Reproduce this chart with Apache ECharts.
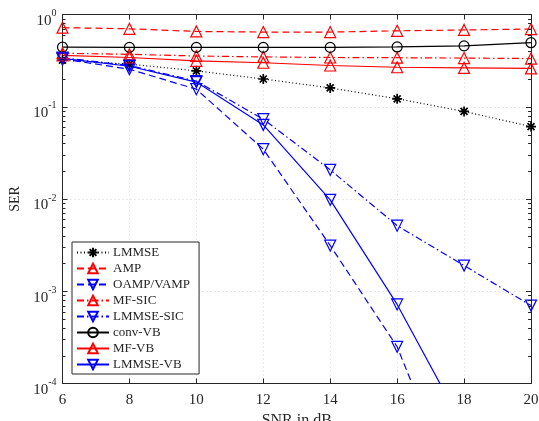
<!DOCTYPE html>
<html>
<head>
<meta charset="utf-8">
<script src="https://cdn.jsdelivr.net/npm/echarts@6/dist/echarts.min.js"></script>
<style>html,body{margin:0;padding:0;background:#fff;}#c{width:539px;height:421px;}</style>
</head>
<body>
<div id="c"></div>
<script>
const snr = [6, 8, 10, 12, 14, 16, 18, 20];
const lmmse     = [0.32, 0.29, 0.245, 0.20, 0.16, 0.122, 0.089, 0.061];
const amp       = [0.72, 0.70, 0.655, 0.645, 0.645, 0.665, 0.68, 0.695];
const oampVamp  = [0.33, 0.255, 0.155, 0.0347, 0.00313, 0.00025, 0.000004, null];
const mfSic     = [0.38, 0.37, 0.355, 0.347, 0.342, 0.340, 0.337, 0.333];
const lmmseSic  = [0.34, 0.28, 0.19, 0.0733, 0.0207, 0.00514, 0.0019, 0.0007];
const convVb    = [0.443, 0.44, 0.44, 0.44, 0.44, 0.445, 0.457, 0.495];
const mfVb      = [0.36, 0.342, 0.315, 0.30, 0.28, 0.268, 0.264, 0.26];
const lmmseVb   = [0.335, 0.275, 0.185, 0.0636, 0.0098, 0.00072, 0.000033, null];
const xTicks = [6, 8, 10, 12, 14, 16, 18, 20];
const yTickExps = [-4, -3, -2, -1, 0];

const FONT = '"Liberation Serif", "DejaVu Serif", serif';
const TXT = '#262626';
const RED = '#ff0000', BLUE = '#0000ff', BLK = '#000000';
const ASTER = 'path://M0,-10L0,10M-10,0L10,0M-7,-7L7,7M-7,7L7,-7';

// minor tick values for the log axis (2..9 x 10^e)
const minorVals = [];
for (let e = yTickExps[0]; e < yTickExps[yTickExps.length - 1]; e++) for (let k = 2; k <= 9; k++) minorVals.push(k * Math.pow(10, e));

function pairs(arr) { return snr.map((x, i) => [x, arr[i]]); }

function mk(name, data, color, dash, symbol, rotate, size, bw) {
  return {
    name: name, type: 'line', data: pairs(data),
    symbol: symbol, symbolSize: size, symbolRotate: rotate,
    lineStyle: { color: color, width: 1.2, type: dash },
    itemStyle: { color: 'rgba(255,255,255,0)', borderColor: color, borderWidth: bw || 1.2 },
    emphasis: { disabled: true },
    animation: false, clip: true, connectNulls: false
  };
}

const DASH = [7, 4], DASHDOT = [7, 3, 1.5, 3], DOT = [1, 2.5];

const series = [
  mk('LMMSE', lmmse, BLK, DOT, ASTER, 0, 10, 1.7),
  mk('AMP', amp, RED, DASH, 'triangle', 0, 11),
  mk('OAMP/VAMP', oampVamp, BLUE, DASH, 'triangle', 180, 11),
  mk('MF-SIC', mfSic, RED, DASHDOT, 'triangle', 0, 11),
  mk('LMMSE-SIC', lmmseSic, BLUE, DASHDOT, 'triangle', 180, 11),
  mk('conv-VB', convVb, BLK, 'solid', 'circle', 0, 10),
  mk('MF-VB', mfVb, RED, 'solid', 'triangle', 0, 11),
  mk('LMMSE-VB', lmmseVb, BLUE, 'solid', 'triangle', 180, 11),
  {
    type: 'custom', silent: true, animation: false, clip: false, z: 5,
    data: minorVals.map(v => [xTicks[0], v]),
    renderItem: function (params, api) {
      const v = api.value(1);
      const pL = api.coord([xTicks[0], v]);
      const pR = api.coord([xTicks[xTicks.length - 1], v]);
      const y = Math.round(pL[1]) + 0.5;
      return { type: 'group', children: [
        { type: 'line', shape: { x1: pL[0], y1: y, x2: pL[0] + 3, y2: y }, style: { stroke: TXT, lineWidth: 1 } },
        { type: 'line', shape: { x1: pR[0], y1: y, x2: pR[0] - 3, y2: y }, style: { stroke: TXT, lineWidth: 1 } }
      ]};
    }
  }
];

const chart = echarts.init(document.getElementById('c'), null, { renderer: 'canvas' });
const axisCommon = {
  axisLine: { show: true, onZero: false, lineStyle: { color: TXT, width: 1 } },
  axisTick: { show: true, inside: true, length: 5, lineStyle: { color: TXT, width: 1 } }
};
chart.setOption({
  animation: false,
  backgroundColor: '#fff',
  grid: { left: 62.5, right: 8, top: 14.5, bottom: 37.5, containLabel: false, outerBoundsMode: 'none' },
  legend: {
    orient: 'vertical', left: 72, top: 242,
    data: ['LMMSE', 'AMP', 'OAMP/VAMP', 'MF-SIC', 'LMMSE-SIC', 'conv-VB', 'MF-VB', 'LMMSE-VB'],
    itemWidth: 32, itemHeight: 12, itemGap: 3,
    padding: [4, 9, 3, 4],
    backgroundColor: '#fff', borderColor: TXT, borderWidth: 1,
    textStyle: { fontFamily: FONT, fontSize: 13, color: TXT, padding: [0, 0, 0, -1] },
    selectedMode: false
  },
  xAxis: [
    Object.assign({
      type: 'value', min: 6, max: 20, interval: 2, position: 'bottom',
      name: 'SNR in dB', nameLocation: 'middle', nameGap: 25,
      nameTextStyle: { fontFamily: FONT, fontSize: 16, color: TXT },
      axisLabel: { fontFamily: FONT, fontSize: 15, color: TXT, margin: 9 },
      splitLine: { show: true, lineStyle: { color: '#d4d4d4', type: [1, 3], width: 1 } }
    }, axisCommon),
    Object.assign({
      type: 'value', min: 6, max: 20, interval: 2, position: 'top',
      axisLabel: { show: false }, splitLine: { show: false }
    }, axisCommon)
  ],
  yAxis: [
    Object.assign({
      type: 'log', logBase: 10, min: 1e-4, max: 1, position: 'left',
      name: 'SER', nameLocation: 'middle', nameGap: 34, nameRotate: 90,
      nameTextStyle: { fontFamily: FONT, fontSize: 14, color: TXT },
      axisLabel: {
        margin: 6,
        padding: [8, 0, 0, 0],
        formatter: function (v) {
          const e = Math.round(Math.log10(v));
          return '{b|10}{s|' + e + '}';
        },
        rich: {
          b: { fontFamily: FONT, fontSize: 15, color: TXT, lineHeight: 20, verticalAlign: 'bottom' },
          s: { fontFamily: FONT, fontSize: 10, color: TXT, lineHeight: 10, verticalAlign: 'top' }
        }
      },
      splitLine: { show: true, lineStyle: { color: '#d4d4d4', type: [1, 3], width: 1 } }
    }, axisCommon),
    Object.assign({
      type: 'log', logBase: 10, min: 1e-4, max: 1, position: 'right',
      axisLabel: { show: false }, splitLine: { show: false }
    }, axisCommon)
  ],
  series: series
});
</script>
</body>
</html>
